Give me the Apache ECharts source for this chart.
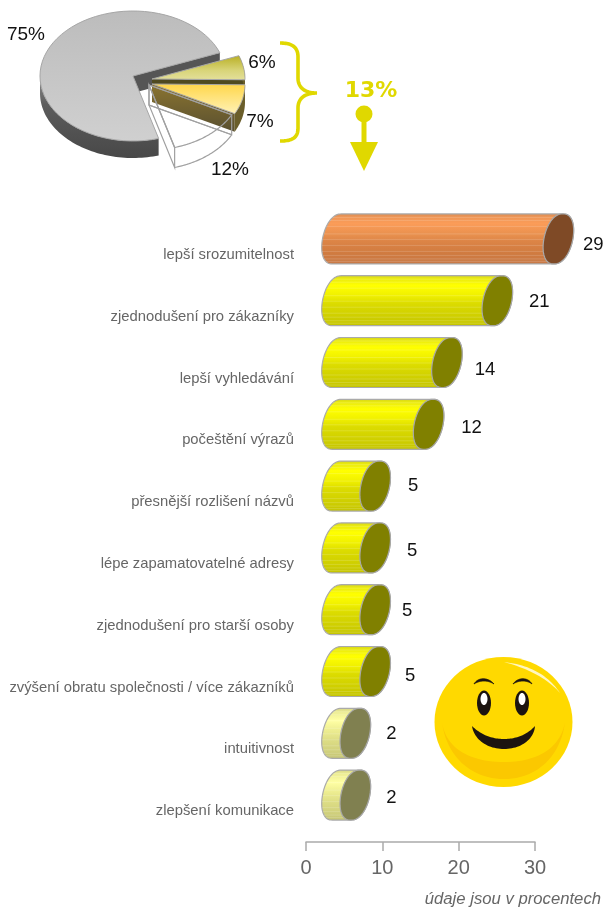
<!DOCTYPE html>
<html><head><meta charset="utf-8">
<style>html,body{margin:0;padding:0;background:#fff}#c{width:605px;height:907px}</style>
<script src="https://cdn.jsdelivr.net/npm/echarts@6/dist/echarts.min.js"></script>
</head><body><div id="c"></div>
<script>
const categories = ['lepší srozumitelnost','zjednodušení pro zákazníky','lepší vyhledávání','počeštění výrazů','přesnější rozlišení názvů','lépe zapamatovatelné adresy','zjednodušení pro starší osoby','zvýšení obratu společnosti / více zákazníků','intuitivnost','zlepšení komunikace'];
const barValues = [29,21,14.4,12,5,5,5,5,2.4,2.4];
const axisTicks = [0,10,20,30];
const pieValues = [6,7,12,75];
const pieLabels = ['6%','7%','12%','75%'];
const bracketTotal = '13%';
const footnote = 'údaje jsou v procentech';

// --- styling / layout constants (not data) ---
const labelNudge = [[0,6],[7,1],[3,7],[8,4],[3,0],[2,3],[-3,1],[0,4],[1,1],[1,3]];
const pieLabelAt = [[26,35],[262,63],[260,122],[230,170]];
const pieLabelOrder = [1,2,3,0];
const stripeRows = [-.86,-.74,-.5,-.2,.02,.26,.5,.66,.8,.9];
const DEPTH_X = 31, DEPTH_Y = -16, RY = 25, RX = 14.5, SKEW = 4.5, ROUND = .85;

function grad(stops){
  return {type:'linear',x:0,y:0,x2:0,y2:1,colorStops:stops.map(s=>({offset:s[0],color:s[1]}))};
}
const tiers = {
  orange:{body:grad([[0,'#d68a54'],[.07,'#ee9656'],[.2,'#fb9c58'],[.42,'#e8904e'],[.55,'#dc8446'],[.8,'#cf7a40'],[1,'#c87a48']]),cap:'#7f4a26'},
  yellow:{body:grad([[0,'#d0d020'],[.06,'#e8e810'],[.2,'#ffff00'],[.4,'#f0f000'],[.55,'#dcdc00'],[.8,'#cfcf00'],[1,'#c4c400']]),cap:'#808000'},
  pale:{body:grad([[0,'#d2d286'],[.08,'#ecec94'],[.25,'#ffffa4'],[.45,'#ecec90'],[.65,'#dcdc84'],[.85,'#d0d07c'],[1,'#c4c474']]),cap:'#808050'}
};
const tierOf = i => i===0 ? tiers.orange : (i>=8 ? tiers.pale : tiers.yellow);

function renderBar(params, api){
  const i = api.value(1), v = api.value(0);
  const end = api.coord([v,i]), start = api.coord([0,i]);
  const cy = end[1]+DEPTH_Y, x1 = end[0]+DEPTH_X, x0 = start[0]+DEPTH_X;
  const pw = c => Math.sign(c)*Math.pow(Math.abs(c),ROUND);
  const e = (cx,t)=>[cx+RX*pw(Math.cos(t))-SKEW*Math.sin(t), cy+RY*Math.sin(t)];
  const body=[], cap=[];
  for(let k=0;k<=40;k++){ const t=-Math.PI/2+Math.PI*k/40; body.push(e(x1,t)); }
  for(let k=0;k<=40;k++){ const t=Math.PI/2+Math.PI*k/40; body.push(e(x0,t)); }
  for(let k=0;k<72;k++){ cap.push(e(x1,2*Math.PI*k/72)); }
  const tier = tierOf(i), n = labelNudge[i];
  const kids=[{type:'polygon',shape:{points:body},style:{fill:tier.body,stroke:'#aaaaaa',lineWidth:1.2}}];
  stripeRows.forEach(f=>{
    const t=Math.asin(f);
    kids.push({type:'polyline',shape:{points:[e(x0,Math.PI-t),e(x1,Math.PI-t)]},style:{stroke:'rgba(255,255,255,0.16)',lineWidth:1,fill:null}});
  });
  kids.push({type:'polygon',shape:{points:cap},style:{fill:tier.cap,stroke:'#a8a8a8',lineWidth:1.2}});
  kids.push({type:'text',x:x1+35+n[0],y:cy+n[1],style:{text:String(Math.round(v)),fill:'#111',font:'18.5px "Liberation Sans",Arial,sans-serif',align:'center',verticalAlign:'middle'}});
  return {type:'group',children:kids};
}

// pie drawn with a small perspective warp of the angle
const PIE_RX=93, PIE_RY=65;
const pieAngle = p => (21-3.6*p-5*Math.pow(Math.max(0,Math.sin(2*Math.PI*p/100)),4))*Math.PI/180;
const pieStyles = [
 {c:[152,79],d:17,top:grad([[0,'#b8ae22'],[.6,'#d8d478'],[1,'#e4e09c']]),wall:'#4f4a20',z:3},
 {c:[152,84],d:18,top:grad([[0,'#ffd648'],[1,'#fff2b8']]),wall:grad([[0,'#8a7430'],[1,'#5a5030']]),z:4},
 {c:[149,85],d:20,top:'#ffffff',wall:'#ffffff',z:2,outline:true},
 {c:[133,76],d:17,top:grad([[0,'#bcbcbc'],[1,'#d0d0d0']]),wall:grad([[0,'#909090'],[.35,'#5c5c5c'],[1,'#484848']]),z:1,gray:true}
];
function renderPie(params, api){
  const idx = params.dataIndex, s = pieStyles[idx];
  let before=0; for(let k=0;k<idx;k++) before+=pieValues[k];
  const a0=pieAngle(before), a1=pieAngle(before+api.value(0));
  const [cx,cy]=s.c, d=s.d;
  const pt=(a,dy)=>[cx+PIE_RX*Math.cos(a), cy-PIE_RY*Math.sin(a)+(dy||0)];
  const arc=(x,y,dy)=>{const o=[];for(let k=0;k<=60;k++)o.push(pt(x+(y-x)*k/60,dy));return o;};
  const apex=[cx,cy], apexB=[cx,cy+d];
  const topPts=[apex].concat(arc(a0,a1,0));
  const kids=[];
  const stroke='#a6a6a6';
  if(s.gray){
    const c0=pt(a1), c0b=pt(a1,d);
    kids.push({type:'polygon',z2:s.z,shape:{points:[apex,c0,c0b,apexB]},style:{fill:'#555555'}});
    kids.push({type:'polygon',z2:s.z,shape:{points:arc(a0,-Math.PI,0).concat(arc(-Math.PI,a0,d))},style:{fill:s.wall}});
  } else {
    const front=arc(a0,a1,0).concat(arc(a1,a0,d));
    const radial=[apex,pt(a1),pt(a1,d),apexB];
    kids.push({type:'polygon',z2:s.z,shape:{points:radial},style:{fill:s.wall}});
    kids.push({type:'polygon',z2:s.z,shape:{points:front},style:{fill:idx===2?'#ffffff':'#6a5e2a'}});
  }
  kids.push({type:'polygon',z2:s.z,shape:{points:topPts},style:{fill:s.top,stroke:s.outline?null:stroke,lineWidth:1}});
  if(s.outline){
    const lw={stroke:'#a0a0a0',fill:null,lineWidth:1.2};
    kids.push({type:'polygon',z2:6,shape:{points:topPts},style:lw});
    kids.push({type:'polygon',z2:6,shape:{points:[apex,pt(a0),pt(a0,d),apexB]},style:lw});
    kids.push({type:'polygon',z2:6,shape:{points:[apex,pt(a1),pt(a1,d),apexB]},style:lw});
    kids.push({type:'polyline',z2:6,shape:{points:arc(a0,a1,d)},style:lw});
    kids.push({type:'polyline',z2:6,shape:{points:[apexB,pt(a0,d)]},style:lw});
  }
  const at=pieLabelAt[pieLabelOrder[idx]];
  kids.push({type:'text',z2:8,x:at[0],y:at[1],style:{text:pieLabels[idx],fill:'#111',font:'19px "Liberation Sans",Arial,sans-serif',align:'center',verticalAlign:'middle'}});
  return {type:'group',children:kids};
}

// cubic bezier sampling for the hand-drawn decorations
function curve(start, segs){
  const pts=[start]; let p=start;
  segs.forEach(s=>{
    if(s.length===1){pts.push(s[0]);p=s[0];return;}
    for(let k=1;k<=24;k++){const t=k/24,u=1-t;
      pts.push([u*u*u*p[0]+3*u*u*t*s[0][0]+3*u*t*t*s[1][0]+t*t*t*s[2][0],
                u*u*u*p[1]+3*u*u*t*s[0][1]+3*u*t*t*s[1][1]+t*t*t*s[2][1]]);}
    p=s[s.length-1];
  });
  return pts;
}
const gold='#e0d800', ink='#1c1410';
const decorations=[
  {type:'polyline',shape:{points:curve([280,43],[[[292,43],[298,47],[298,57]],[[298,78]],[[298,87],[304,93],[317,93]],[[304,93],[298,99],[298,108]],[[298,128]],[[298,138],[292,141],[280,141]]])},style:{fill:null,stroke:gold,lineWidth:3.6}},
  {type:'text',x:371,y:91,style:{text:bracketTotal,fill:gold,font:'bold 22px "DejaVu Sans",Verdana,sans-serif',align:'center',verticalAlign:'middle'}},
  {type:'circle',shape:{cx:364,cy:114,r:8.5},style:{fill:gold}},
  {type:'rect',shape:{x:361.5,y:118,width:5,height:26},style:{fill:gold}},
  {type:'polygon',shape:{points:[[350,142],[378,142],[364,171]]},style:{fill:gold}},
  {type:'ellipse',shape:{cx:503.5,cy:722,rx:69,ry:65},style:{fill:'#ffd900'}},
  {type:'polygon',shape:{points:curve([442,722],[[[446,755],[470,779],[504,779]],[[538,779],[561,755],[565,722]],[[560,750],[535,762],[504,762]],[[472,762],[446,750],[442,722]]])},style:{fill:'#fbc800'}},
  {type:'polygon',shape:{points:curve([504,662],[[[530,665],[548,675],[560,693]],[[549,680],[530,669],[504,662]]])},style:{fill:'#fff6c0'}},
  {type:'ellipse',shape:{cx:484,cy:703,rx:7,ry:12.5},style:{fill:ink}},
  {type:'ellipse',shape:{cx:522,cy:703,rx:7,ry:12.5},style:{fill:ink}},
  {type:'ellipse',shape:{cx:484,cy:699,rx:3.5,ry:6},style:{fill:'#ffffff'}},
  {type:'ellipse',shape:{cx:522,cy:699,rx:3.5,ry:6},style:{fill:'#ffffff'}},
  {type:'polygon',shape:{points:curve([474,684],[[[478,677],[488,677],[494,684]],[[488,680],[480,680],[474,684]]])},style:{fill:ink,stroke:ink,lineWidth:.8}},
  {type:'polygon',shape:{points:curve([513,684],[[[518,677],[528,677],[532,684]],[[527,680],[519,680],[513,684]]])},style:{fill:ink,stroke:ink,lineWidth:.8}},
  {type:'polygon',shape:{points:curve([472,726],[[[482,736],[494,739],[504,739]],[[514,739],[526,736],[535,726]],[[534,740],[520,749],[504,749]],[[488,749],[474,740],[472,726]]])},style:{fill:ink}},
  {type:'text',x:601,y:899,style:{text:footnote,fill:'#666666',font:'italic 16.7px "Liberation Sans",Arial,sans-serif',align:'right',verticalAlign:'middle'}}
];

const chart=echarts.init(document.getElementById('c'),null,{renderer:'canvas'});
chart.setOption({
  animation:false,
  backgroundColor:'#ffffff',
  grid:{left:306,right:70,top:224,bottom:65,containLabel:false},
  xAxis:{type:'value',position:'bottom',min:axisTicks[0],max:axisTicks[axisTicks.length-1],interval:axisTicks[1]-axisTicks[0],
    axisLine:{show:true,lineStyle:{color:'#aaaaaa',width:1.5}},
    axisTick:{show:true,length:9,inside:false,lineStyle:{color:'#aaaaaa',width:1.5}},
    splitLine:{show:false},
    axisLabel:{color:'#666666',fontSize:20,margin:16,fontFamily:'"Liberation Sans",Arial,sans-serif',showMinLabel:true,showMaxLabel:true}},
  yAxis:{type:'category',inverse:true,data:categories,
    axisLine:{show:false},axisTick:{show:false},splitLine:{show:false},
    axisLabel:{color:'#666666',fontSize:14.8,margin:12,interval:0,hideOverlap:false,padding:[3,0,0,0],fontFamily:'"Liberation Sans",Arial,sans-serif'}},
  graphic:{elements:decorations},
  series:[
    {type:'custom',name:'bars',coordinateSystem:'cartesian2d',clip:false,renderItem:renderBar,encode:{x:0,y:1},data:barValues.map((v,i)=>[v,i]),z:3},
    {type:'custom',name:'pie',coordinateSystem:'none',renderItem:renderPie,data:pieValues,z:2}
  ]
});
</script></body></html>
